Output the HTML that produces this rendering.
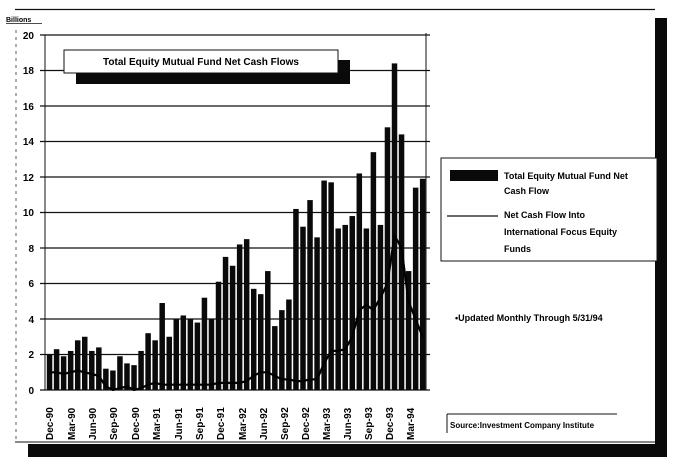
<!DOCTYPE html>
<html><head><meta charset="utf-8"><style>
html,body{margin:0;padding:0;background:#fff;}
svg{display:block;font-family:"Liberation Sans",Arial,sans-serif;font-weight:bold;}
</style></head><body>
<svg id="s" width="687" height="466" viewBox="0 0 687 466" xmlns="http://www.w3.org/2000/svg">
<rect width="687" height="466" fill="#fff"/>
<line x1="15" y1="9.5" x2="655" y2="9.5" stroke="#111" stroke-width="1.2"/>
<line x1="15" y1="442" x2="658" y2="442" stroke="#111" stroke-width="1"/>
<rect x="655" y="18" width="12" height="439" fill="#0a0a0a"/>
<rect x="28" y="444" width="639" height="13" fill="#0a0a0a"/>
<line x1="16" y1="30" x2="16" y2="440" stroke="#333" stroke-width="0.8" stroke-dasharray="3,4"/>
<text x="6" y="22" font-size="7">Billions</text>
<line x1="6" y1="23.5" x2="42" y2="23.5" stroke="#111" stroke-width="0.8"/>
<g stroke="#111" stroke-width="1.3">
<line x1="40" y1="35" x2="430" y2="35"/>
<line x1="40" y1="70.5" x2="430" y2="70.5"/>
<line x1="40" y1="106" x2="430" y2="106"/>
<line x1="40" y1="141.5" x2="430" y2="141.5"/>
<line x1="40" y1="177" x2="430" y2="177"/>
<line x1="40" y1="212.5" x2="430" y2="212.5"/>
<line x1="40" y1="248" x2="430" y2="248"/>
<line x1="40" y1="283.5" x2="430" y2="283.5"/>
<line x1="40" y1="319" x2="430" y2="319"/>
<line x1="40" y1="354.5" x2="430" y2="354.5"/>
<line x1="40" y1="390" x2="430" y2="390"/>
<line x1="45" y1="35" x2="45" y2="390" stroke-width="1"/>
<line x1="426" y1="33" x2="426" y2="390" stroke-width="1"/>
</g>
<g font-size="10" text-anchor="end">
<text x="34" y="39">20</text><text x="34" y="74">18</text><text x="34" y="110">16</text>
<text x="34" y="145">14</text><text x="34" y="181">12</text><text x="34" y="216">10</text>
<text x="34" y="252">8</text><text x="34" y="287">6</text><text x="34" y="323">4</text>
<text x="34" y="358">2</text><text x="34" y="394">0</text>
</g>
<g id="bars" fill="#0a0a0a"></g>
<polyline id="ln" fill="none" stroke="#000" stroke-width="2.2"/>
<rect x="76" y="60" width="274" height="24" fill="#0a0a0a"/>
<rect x="64" y="50" width="274" height="23" fill="#fff" stroke="#111" stroke-width="1"/>
<text x="201" y="65" font-size="10" text-anchor="middle">Total Equity Mutual Fund Net Cash Flows</text>
<g font-size="10">
<text transform="translate(53,440) rotate(-90)">Dec-90</text>
<text transform="translate(75,440) rotate(-90)">Mar-90</text>
<text transform="translate(96,440) rotate(-90)">Jun-90</text>
<text transform="translate(117,440) rotate(-90)">Sep-90</text>
<text transform="translate(139,440) rotate(-90)">Dec-90</text>
<text transform="translate(160,440) rotate(-90)">Mar-91</text>
<text transform="translate(182,440) rotate(-90)">Jun-91</text>
<text transform="translate(203,440) rotate(-90)">Sep-91</text>
<text transform="translate(224,440) rotate(-90)">Dec-91</text>
<text transform="translate(246,440) rotate(-90)">Mar-92</text>
<text transform="translate(267,440) rotate(-90)">Jun-92</text>
<text transform="translate(288,440) rotate(-90)">Sep-92</text>
<text transform="translate(309,440) rotate(-90)">Dec-92</text>
<text transform="translate(330,440) rotate(-90)">Mar-93</text>
<text transform="translate(351,440) rotate(-90)">Jun-93</text>
<text transform="translate(372,440) rotate(-90)">Sep-93</text>
<text transform="translate(393,440) rotate(-90)">Dec-93</text>
<text transform="translate(414,440) rotate(-90)">Mar-94</text>
</g>
<rect x="441" y="158" width="216" height="103" fill="#fff" stroke="#111" stroke-width="1"/>
<rect x="450" y="170" width="48" height="11" fill="#0a0a0a"/>
<line x1="447" y1="216" x2="498" y2="216" stroke="#111" stroke-width="1.3"/>
<g font-size="9">
<text x="504" y="179">Total Equity Mutual Fund Net</text>
<text x="504" y="194">Cash Flow</text>
<text x="504" y="218">Net Cash Flow Into</text>
<text x="504" y="235">International Focus Equity</text>
<text x="504" y="252">Funds</text>
<text x="455" y="321">•Updated Monthly Through 5/31/94</text>
</g>
<line x1="447" y1="414" x2="617" y2="414" stroke="#111" stroke-width="1"/>
<line x1="447" y1="414" x2="447" y2="433" stroke="#111" stroke-width="1"/>
<text x="450" y="428" font-size="8">Source:Investment Company Institute</text>
</svg>
<script>
var v=[2.0,2.3,1.9,2.2,2.8,3.0,2.2,2.4,1.2,1.1,1.9,1.5,1.4,2.2,3.2,2.8,4.9,3.0,4.0,4.2,4.0,3.8,5.2,4.0,6.1,7.5,7.0,8.2,8.5,5.7,5.4,6.7,3.6,4.5,5.1,10.2,9.2,10.7,8.6,11.8,11.7,9.1,9.3,9.8,12.2,9.1,13.4,9.3,14.8,18.4,14.4,6.7,11.4,11.9];
var l=[1,1,0.9,1,1.1,1,0.9,0.8,0.2,0,0.1,0.2,0,0.1,0.3,0.4,0.3,0.3,0.3,0.3,0.3,0.3,0.3,0.3,0.4,0.4,0.4,0.4,0.5,0.8,1,1,0.8,0.6,0.6,0.5,0.5,0.6,0.6,1.5,2.2,2.2,2.3,3,4.5,4.8,4.5,5.2,6,8.7,8,5,4,3,3];
var g=document.getElementById('bars'),ns='http://www.w3.org/2000/svg',pts=[];
for(var i=0;i<v.length;i++){var x=46.8+7.04*i,h=v[i]*17.75;var r=document.createElementNS(ns,'rect');
r.setAttribute('x',x.toFixed(2));r.setAttribute('y',(390-h).toFixed(2));r.setAttribute('width',5.5);r.setAttribute('height',h.toFixed(2));g.appendChild(r);
pts.push((x+2.7).toFixed(1)+','+(390-l[i]*17.75).toFixed(1));}
document.getElementById('ln').setAttribute('points',pts.join(' '));
</script>
</body></html>
